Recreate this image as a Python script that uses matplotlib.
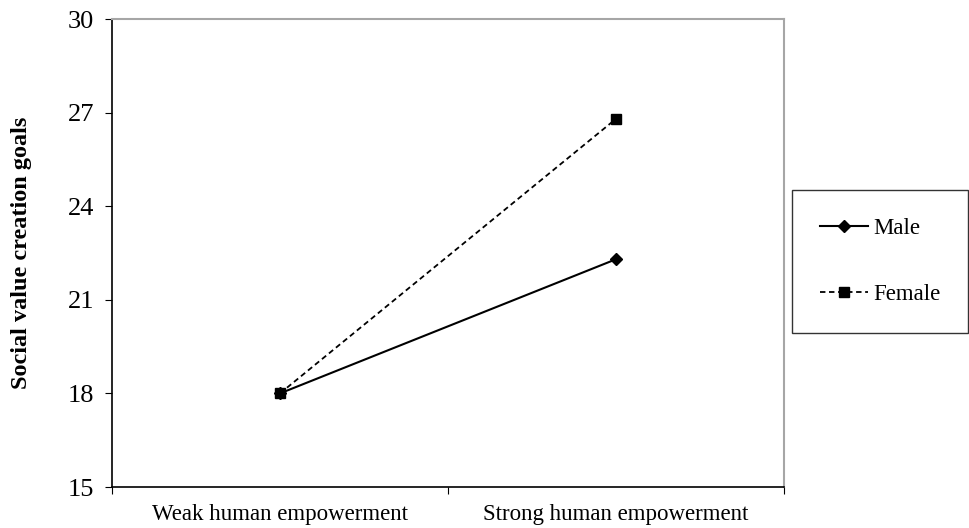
import matplotlib.pyplot as plt

categories = ["Weak human empowerment", "Strong human empowerment"]
male = [18.0, 22.3]
female = [18.0, 26.8]
y_ticks = [15, 18, 21, 24, 27, 30]

FS = 16.5
plt.rcParams["font.family"] = ["Liberation Serif", "DejaVu Serif"]
plt.rcParams["font.size"] = FS

fig = plt.figure(figsize=(9.69, 5.28), dpi=100)
ax = fig.add_axes([112 / 969, 41 / 528, 672 / 969, 468 / 528])

xpos = [i + 0.5 for i in range(len(categories))]
ax.plot(xpos, male, color="black", linewidth=1.5, marker="D", markersize=6.5,
        label="Male")
ax.plot(xpos, female, color="black", linewidth=1.3, linestyle=(0, (3, 2)),
        marker="s", markersize=7.5, label="Female")

ax.set_xlim(0, len(categories))
ax.set_ylim(15, 30)
ax.set_yticks(y_ticks)
ax.set_xticks(range(len(categories) + 1))
ax.set_xticklabels([])
ax.set_xticks(xpos, minor=True)
ax.set_xticklabels(categories, minor=True)
ax.tick_params(axis="x", which="minor", length=0, pad=12, labelsize=FS)
ax.tick_params(axis="x", which="major", direction="out", length=5)
ax.tick_params(axis="y", direction="out", length=5, labelsize=19, pad=8)

ax.spines["top"].set_color("#a6a6a6")
ax.spines["right"].set_color("#a6a6a6")
ax.spines["top"].set_linewidth(1.5)
ax.spines["right"].set_linewidth(1.5)
ax.spines["left"].set_linewidth(1.2)
ax.spines["bottom"].set_linewidth(1.2)

ax.set_ylabel("Social value creation goals", fontweight="bold", fontsize=17.5)
ax.yaxis.set_label_coords(-80 / 672, 0.5)

leg = fig.legend(loc="upper left", bbox_to_anchor=(792 / 969, 1 - 190 / 528),
                 frameon=True, fancybox=False, edgecolor="black",
                 handlelength=2.1, handletextpad=0.25, labelspacing=2.0,
                 borderpad=1.2, fontsize=FS, borderaxespad=0)
leg.get_frame().set_linewidth(1.0)

fig.savefig("out.png", dpi=100)
